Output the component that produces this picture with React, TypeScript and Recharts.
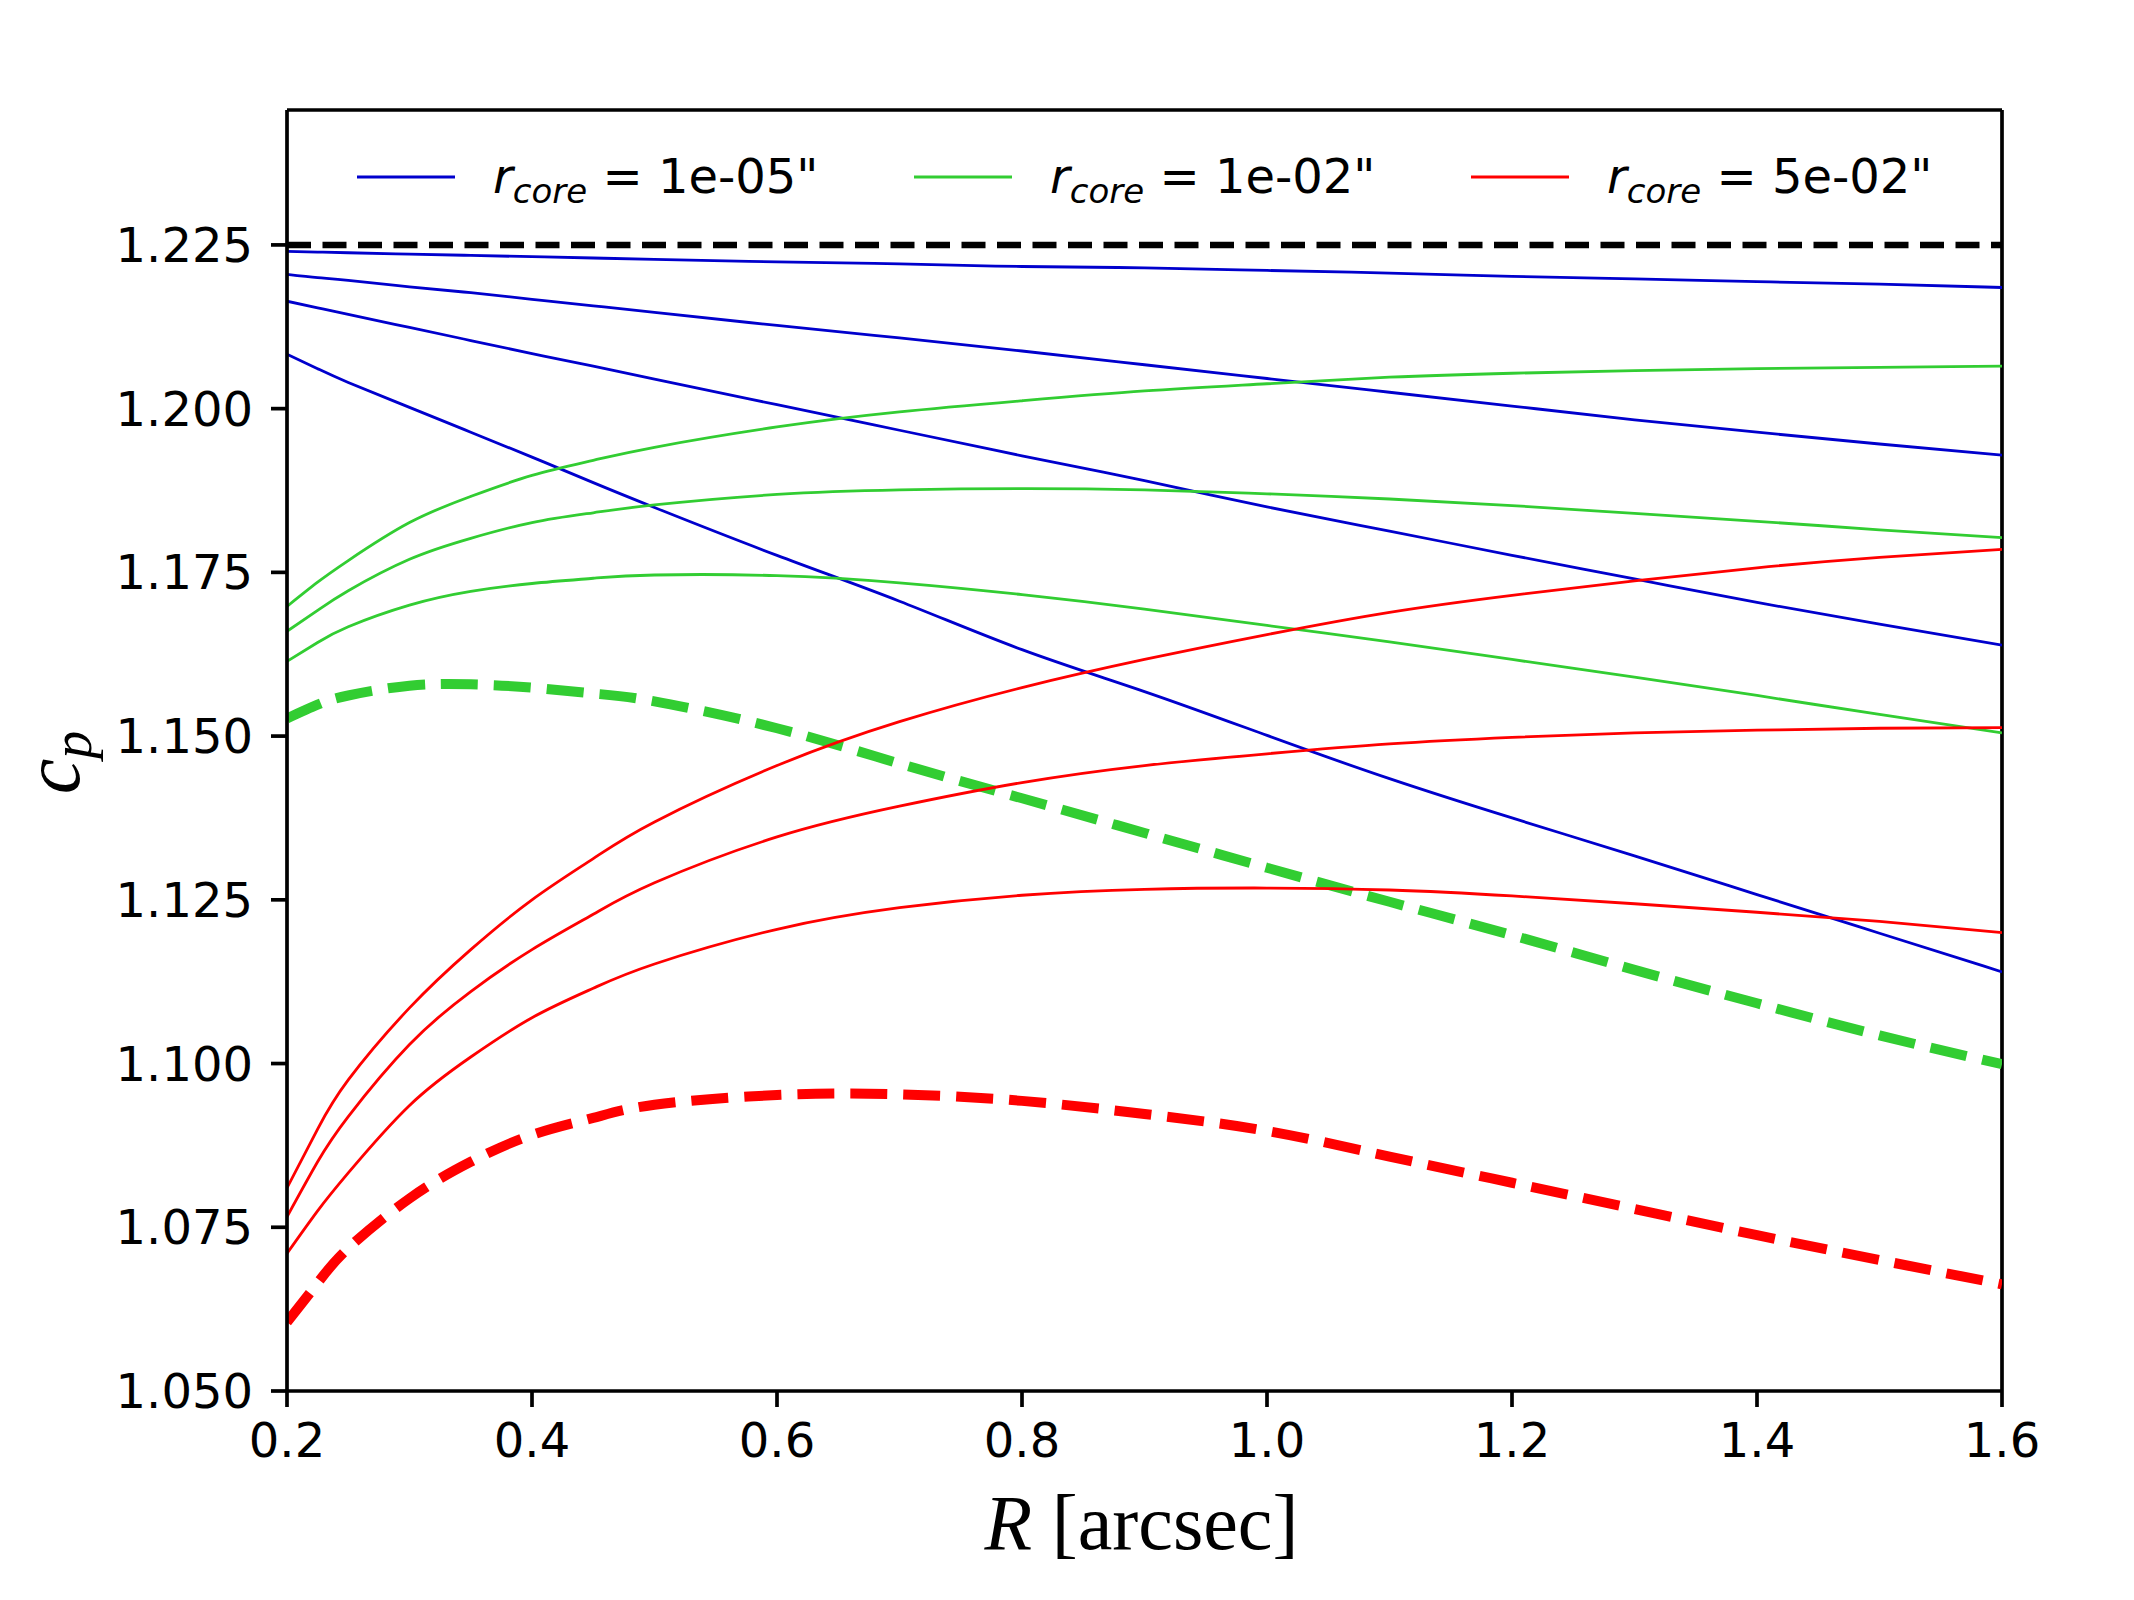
import { Legend, Line, LineChart, ReferenceLine, XAxis, YAxis } from "recharts";

// Projected radius R [arcsec] shared by every curve.
const radius = [0.2, 0.225, 0.25, 0.3, 0.35, 0.4, 0.45, 0.5, 0.6, 0.7, 0.8, 0.9, 1.0, 1.1, 1.2, 1.3, 1.4, 1.5, 1.6];

// r_core = 1e-05"
const blue1 = [1.224, 1.2239, 1.2238, 1.2236, 1.2234, 1.2232, 1.223, 1.2228, 1.2224, 1.2221, 1.2217, 1.2215, 1.2211, 1.2207, 1.2202, 1.2198, 1.2194, 1.219, 1.2185];
const blue2 = [1.2205, 1.22, 1.2196, 1.2186, 1.2177, 1.2167, 1.2157, 1.2147, 1.2127, 1.2108, 1.2088, 1.2067, 1.2046, 1.2025, 1.2004, 1.1983, 1.1964, 1.1946, 1.1929];
const blue3 = [1.2164, 1.2154, 1.2144, 1.2124, 1.2104, 1.2084, 1.2065, 1.2045, 1.2006, 1.1967, 1.1928, 1.189, 1.185, 1.1813, 1.1776, 1.174, 1.1704, 1.1671, 1.1639];
const blue4 = [1.2083, 1.2061, 1.204, 1.2002, 1.1964, 1.1926, 1.1887, 1.1849, 1.1776, 1.1706, 1.1632, 1.1568, 1.1501, 1.1435, 1.1375, 1.1317, 1.1258, 1.1199, 1.114];

// r_core = 1e-02"
const green1 = [1.1698, 1.1735, 1.1768, 1.1826, 1.1866, 1.1898, 1.1921, 1.1941, 1.1972, 1.1995, 1.2012, 1.2027, 1.2038, 1.2048, 1.2054, 1.2058, 1.2061, 1.2063, 1.2065];
const green2 = [1.166, 1.1692, 1.1722, 1.177, 1.1802, 1.1826, 1.1841, 1.1853, 1.1869, 1.1876, 1.1878, 1.1876, 1.187, 1.1862, 1.1852, 1.184, 1.1828, 1.1815, 1.1803];
const green3 = [1.1614, 1.1643, 1.1667, 1.17, 1.1721, 1.1733, 1.1741, 1.1746, 1.1745, 1.1734, 1.1716, 1.1694, 1.1669, 1.1644, 1.1617, 1.159, 1.1562, 1.1533, 1.1505];
const greenDash = [1.1527, 1.1548, 1.1562, 1.1577, 1.1579, 1.1574, 1.1565, 1.1553, 1.1512, 1.1458, 1.1405, 1.1352, 1.1299, 1.1247, 1.1196, 1.1143, 1.1092, 1.1043, 1.0999];

// r_core = 5e-02"
const red1 = [1.081, 1.09, 1.0975, 1.1085, 1.1174, 1.125, 1.1313, 1.1369, 1.1455, 1.1522, 1.1574, 1.1617, 1.1655, 1.1689, 1.1715, 1.1737, 1.1757, 1.1773, 1.1785];
const red2 = [1.0766, 1.085, 1.0919, 1.1029, 1.111, 1.1174, 1.1228, 1.1276, 1.1346, 1.1393, 1.1429, 1.1455, 1.1473, 1.1488, 1.1498, 1.1505, 1.1509, 1.1512, 1.1513];
const red3 = [1.071, 1.0775, 1.0833, 1.0936, 1.101, 1.107, 1.1115, 1.1152, 1.1205, 1.1238, 1.1257, 1.1266, 1.1268, 1.1265, 1.1256, 1.1244, 1.1231, 1.1217, 1.12];
const redDash = [1.0605, 1.0665, 1.0718, 1.0794, 1.085, 1.0891, 1.0917, 1.0937, 1.0952, 1.0953, 1.0943, 1.0923, 1.0897, 1.0858, 1.0818, 1.0778, 1.0738, 1.07, 1.0663];

const pointSourceLimit = 1.225;

const xTicks = [0.2, 0.4, 0.6, 0.8, 1.0, 1.2, 1.4, 1.6];
const yTicks = [1.05, 1.075, 1.1, 1.125, 1.15, 1.175, 1.2, 1.225];
const yTop = 1.2456;

const legendColors = ["#0000cd", "#32cd32", "#ff0000"];
const legendValues = ['1e-05"', '1e-02"', '5e-02"'];

const BLUE = "#0000cd";
const GREEN = "#32cd32";
const RED = "#ff0000";
const THIN = 2.8;
const THICK = 10;
const THICK_DASH = "37 16";

const series = [
  { key: "blue1", values: blue1, color: BLUE, width: THIN, dash: undefined },
  { key: "blue2", values: blue2, color: BLUE, width: THIN, dash: undefined },
  { key: "blue3", values: blue3, color: BLUE, width: THIN, dash: undefined },
  { key: "blue4", values: blue4, color: BLUE, width: THIN, dash: undefined },
  { key: "green1", values: green1, color: GREEN, width: THIN, dash: undefined },
  { key: "green2", values: green2, color: GREEN, width: THIN, dash: undefined },
  { key: "green3", values: green3, color: GREEN, width: THIN, dash: undefined },
  { key: "greenDash", values: greenDash, color: GREEN, width: THICK, dash: THICK_DASH },
  { key: "red1", values: red1, color: RED, width: THIN, dash: undefined },
  { key: "red2", values: red2, color: RED, width: THIN, dash: undefined },
  { key: "red3", values: red3, color: RED, width: THIN, dash: undefined },
  { key: "redDash", values: redDash, color: RED, width: THICK, dash: THICK_DASH },
];

const rows = radius.map((r, i) => {
  const row: Record<string, number> = { r };
  series.forEach((s) => {
    row[s.key] = s.values[i];
  });
  return row;
});

const FONT_SIZE = 48;
const tickFont = { fontSize: FONT_SIZE, fill: "#000", fontFamily: "DejaVu Sans" };
const SERIF = "Liberation Serif, Times New Roman, serif";

function LegendBox() {
  return (
    <svg width={1715} height={80} style={{ display: "block", overflow: "visible" }}>
      {legendValues.map((value, i) => {
        const x0 = 70 + i * 557;
        return (
          <g key={value}>
            <line x1={x0} x2={x0 + 98} y1={37} y2={37} stroke={legendColors[i]} strokeWidth={THIN} />
            <text x={x0 + 136} y={53} fontFamily="DejaVu Sans" fontSize={FONT_SIZE} fill="#000">
              <tspan fontStyle="italic">r</tspan>
              <tspan fontStyle="italic" fontSize={34} dy={10}>
                core
              </tspan>
              <tspan dy={-10}>{` = ${value}`}</tspan>
            </text>
          </g>
        );
      })}
    </svg>
  );
}

function XTitle(props: any) {
  const vb = props.viewBox;
  return (
    <text x={vb.x + vb.width / 2 - 3} y={vb.y + 158} textAnchor="middle" fontFamily={SERIF} fontSize={78} fill="#000">
      <tspan fontStyle="italic">R</tspan>
      <tspan> [arcsec]</tspan>
    </text>
  );
}

function YTitle(props: any) {
  const vb = props.viewBox;
  const x = vb.x - 8;
  const y = vb.y + vb.height / 2 + 12;
  return (
    <text x={x} y={y} transform={`rotate(-90, ${x}, ${y})`} textAnchor="middle" fontFamily={SERIF} fontSize={80} fill="#000">
      <tspan fontStyle="italic">c</tspan>
      <tspan fontStyle="italic" fontSize={56} dy={12}>
        p
      </tspan>
    </text>
  );
}

export default function App() {
  return (
    <div style={{ position: "absolute", left: 0, top: 0, width: 2134, height: 1600, background: "#fff" }}>
      <LineChart width={2134} height={1600} data={rows} margin={{ top: 110, right: 132, bottom: 109, left: 87 }}>
        <XAxis
          dataKey="r"
          type="number"
          domain={[0.2, 1.6]}
          ticks={xTicks}
          allowDataOverflow
          tickFormatter={(v: number) => v.toFixed(1)}
          tick={tickFont}
          tickSize={16}
          tickMargin={16}
          height={100}
          stroke="#000"
          strokeWidth={3.7}
          label={XTitle}
        />
        <YAxis
          type="number"
          domain={[1.05, yTop]}
          ticks={yTicks}
          allowDataOverflow
          tickFormatter={(v: number) => v.toFixed(3)}
          tick={tickFont}
          tickSize={16}
          tickMargin={18}
          width={200}
          stroke="#000"
          strokeWidth={3.7}
          label={YTitle}
        />
        {/* closing spines on the top and right */}
        <ReferenceLine y={yTop} stroke="#000" strokeWidth={3.7} />
        <ReferenceLine x={1.6} stroke="#000" strokeWidth={3.7} />
        <ReferenceLine y={pointSourceLimit} stroke="#000" strokeWidth={6.5} strokeDasharray="24 11.5" />
        {series.map((s) => (
          <Line
            key={s.key}
            dataKey={s.key}
            type="natural"
            stroke={s.color}
            strokeWidth={s.width}
            strokeDasharray={s.dash}
            dot={false}
            activeDot={false}
            isAnimationActive={false}
            legendType="none"
          />
        ))}
        <Legend
          layout="horizontal"
          verticalAlign="middle"
          align="center"
          wrapperStyle={{ top: 140, left: 287, width: 1715, height: 80 }}
          content={LegendBox}
        />
      </LineChart>
    </div>
  );
}
